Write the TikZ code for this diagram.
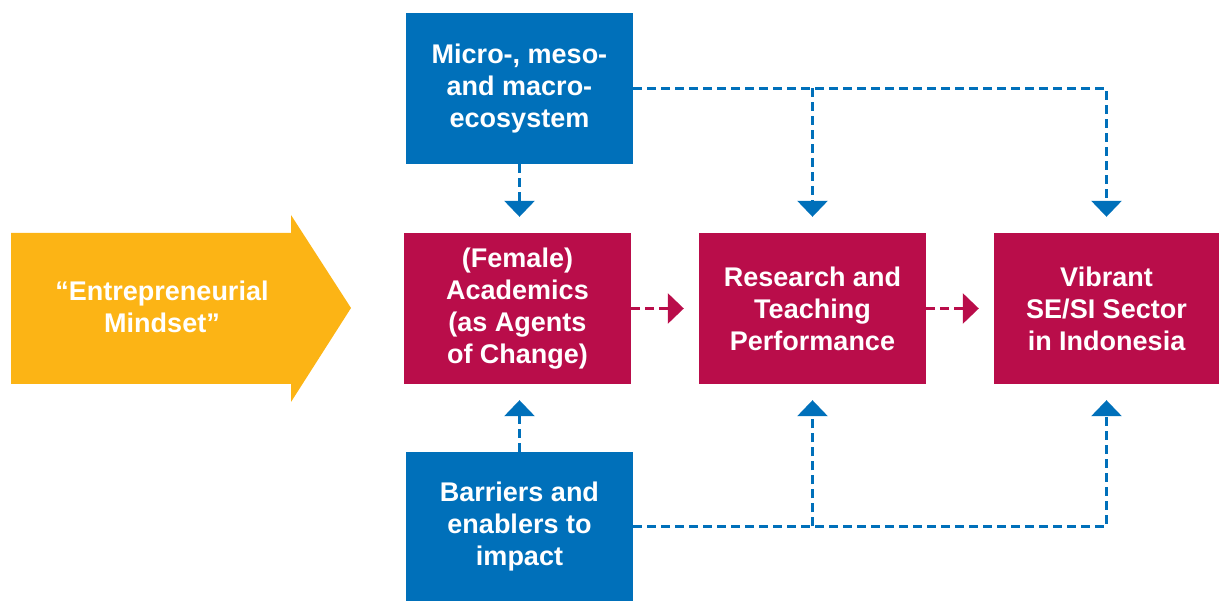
\documentclass[tikz,border=0pt]{standalone}
\usepackage{fontspec}
\setmainfont{Liberation Sans}
\usetikzlibrary{arrows.meta}
\definecolor{cblue}{RGB}{0,112,186}
\definecolor{cmag}{RGB}{185,13,74}
\definecolor{cyel}{RGB}{252,180,21}
\tikzset{
  x=1pt,y=-1pt,
  boxbase/.style={minimum width=227pt,minimum height=151pt,inner sep=0pt,align=center,text=white,
     font=\fontsize{27}{32}\selectfont\bfseries},
  bluebox/.style={boxbase,fill=cblue},
  magbox/.style={boxbase,fill=cmag},
  bconn/.style={draw=cblue,line width=3pt,dash pattern=on 9pt off 5pt,-{Triangle[width=30pt,length=16pt]}},
  mconn/.style={draw=cmag,line width=3pt,dash pattern=on 9pt off 5pt,-{Triangle[width=30pt,length=16pt]}},
}
\begin{document}
\begin{tikzpicture}
\useasboundingbox (0,0) rectangle (1219,601);
% yellow arrow
\fill[cyel] (11,233) -- (291,233) -- (291,215) -- (351,308) -- (291,402) -- (291,384) -- (11,384) -- cycle;
\node[align=center,text=white,font=\fontsize{27}{32}\selectfont\bfseries] (mind) at (162,307) {“Entrepreneurial\\Mindset”};
% boxes
\node[bluebox] (eco) at (519.5,88.5) {Micro-, meso-\\and macro-\\ecosystem};
\node[bluebox,minimum height=149pt] (bar) at (519.5,526.5) {Barriers and\\enablers to\\impact};
\node[magbox] (fem) at (517.5,308.5) {(Female)\\Academics\\(as Agents\\of Change)};
\node[magbox] (res) at (812.5,308.5) {Research and\\Teaching\\Performance};
\node[magbox,minimum width=225pt] (sec) at (1106.5,308.5) {Vibrant\\SE/SI Sector\\in Indonesia};
% blue connectors top
\draw[bconn,shorten >=16pt] (eco.south) -- (eco.south |- fem.north);
\draw[bconn,shorten >=16pt] (eco.east) -| (sec.north);
\draw[bconn,shorten >=16pt] (res.north |- eco.east) -- (res.north);
% blue connectors bottom
\draw[bconn,shorten >=16pt] (bar.north) -- (bar.north |- fem.south);
\draw[bconn,shorten >=16pt] (bar.east) -| (sec.south);
\draw[bconn,shorten >=16pt] (res.south |- bar.east) -- (res.south);
% magenta connectors
\draw[mconn,shorten >=15pt] (fem.east) -- (res.west);
\draw[mconn,shorten >=15pt] (res.east) -- (sec.west);
\end{tikzpicture}
\end{document}
